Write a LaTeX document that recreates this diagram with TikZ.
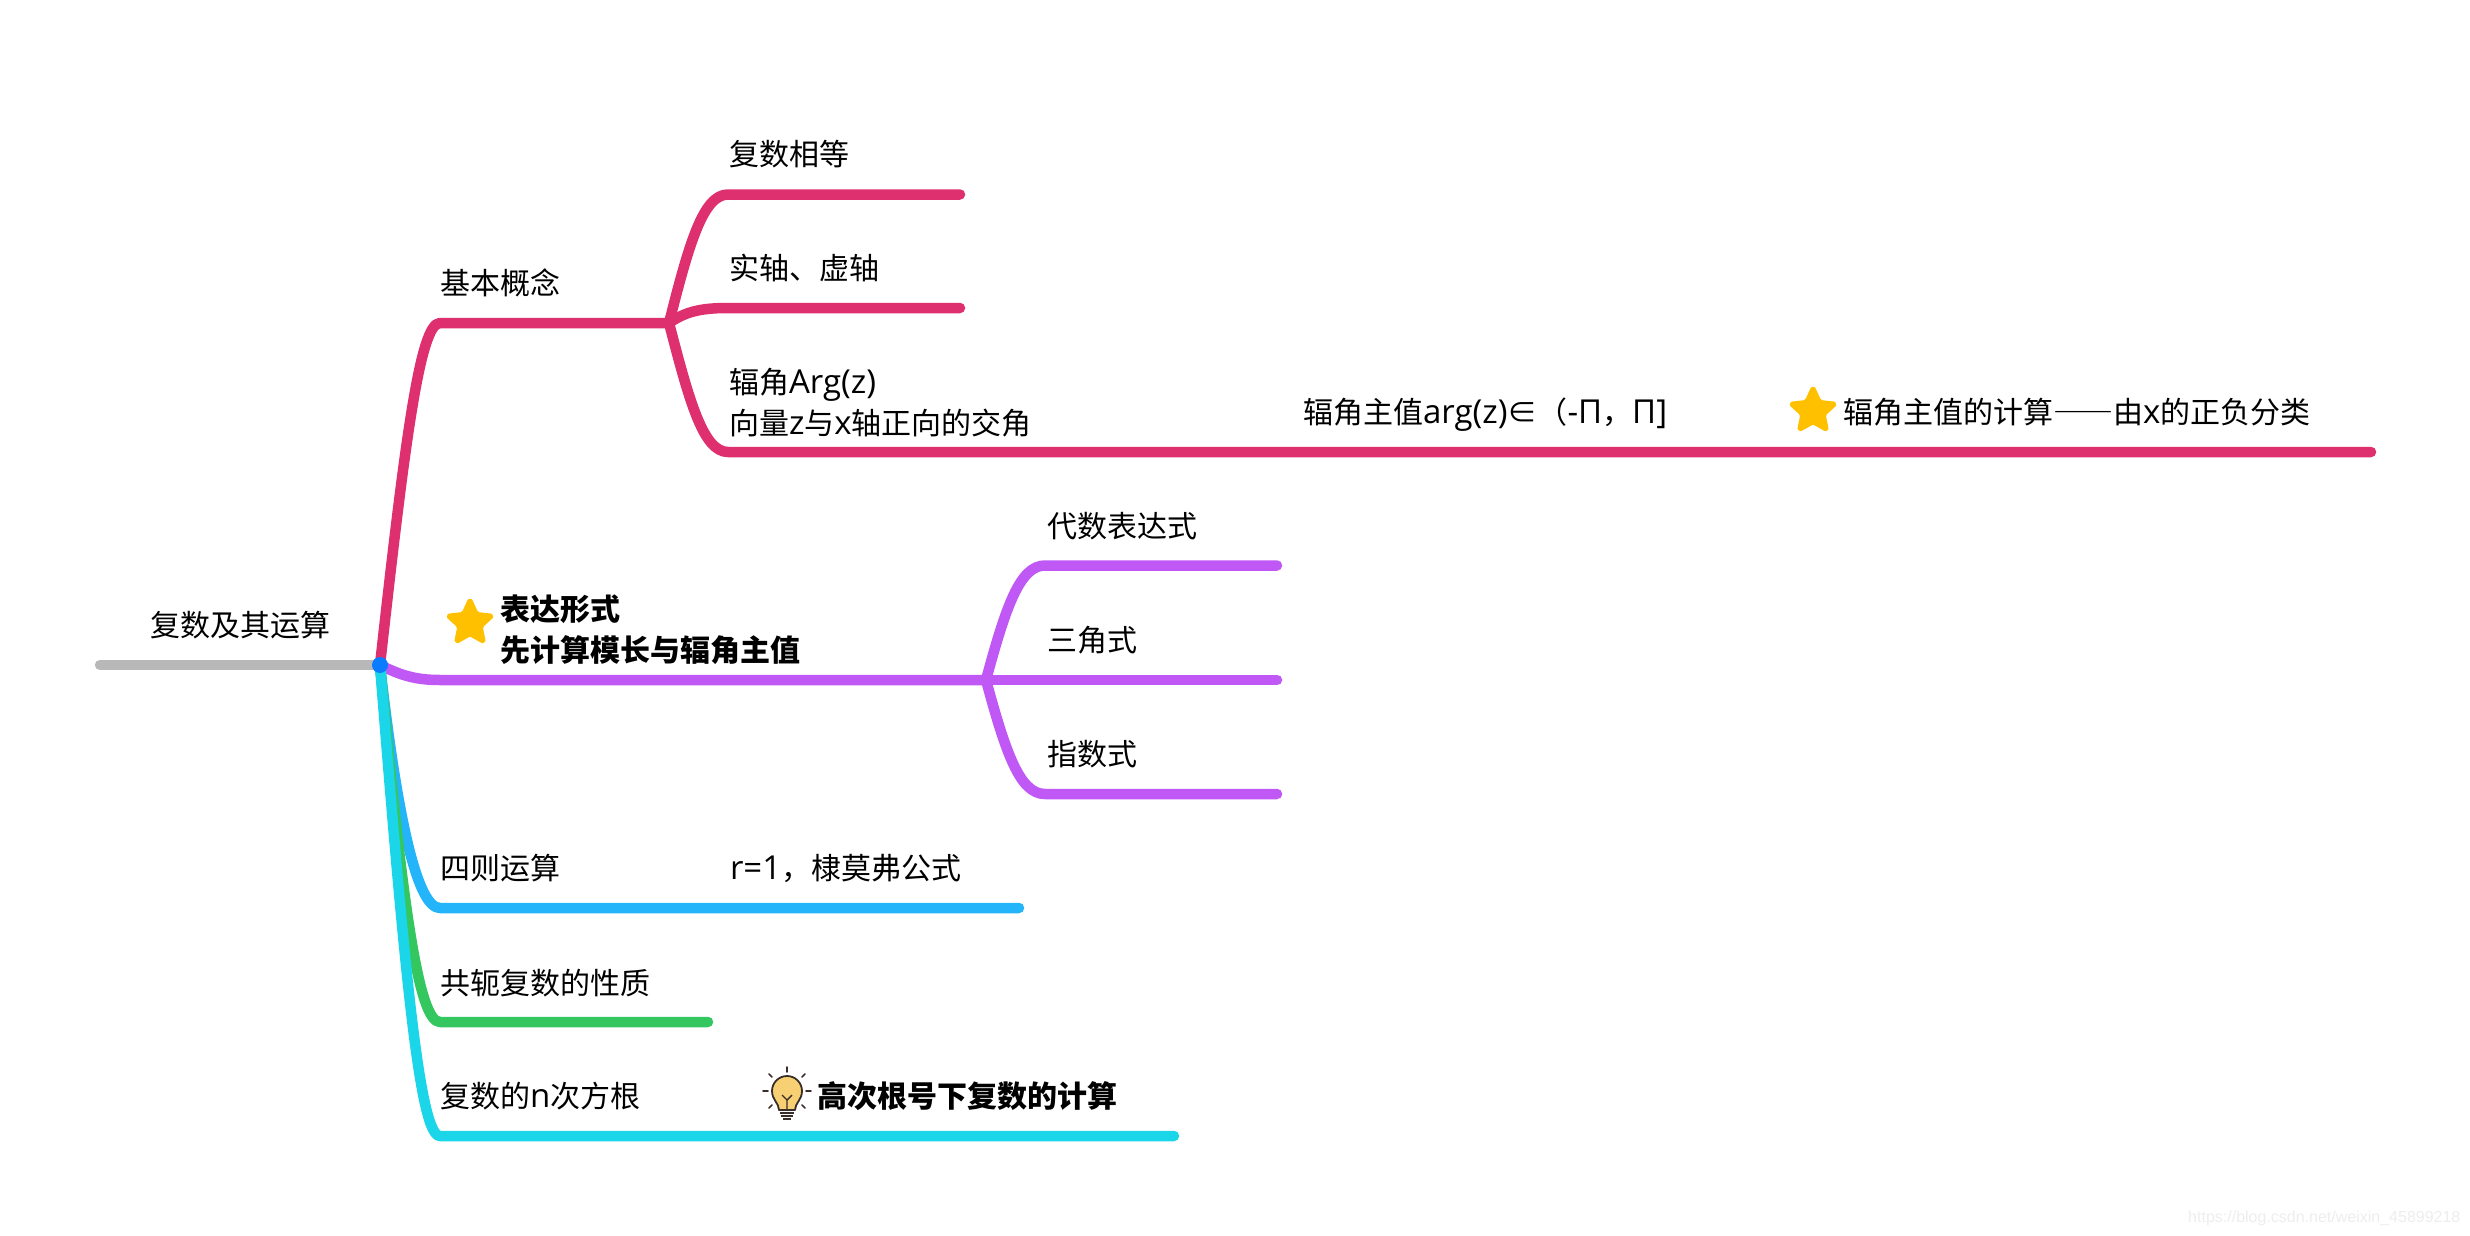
\documentclass[tikz,border=0pt]{standalone}
\usepackage{fontspec}
\setmainfont{Noto Sans CJK SC}
\newfontfamily\wmfont{Liberation Sans}
\newfontfamily\latfont[Scale=1.1]{Open Sans}
\newcommand{\lat}[1]{{\latfont #1}}
\newcommand{\fulldash}{{\addfontfeatures{CharacterWidth=Full}——}}
\usetikzlibrary{shapes.geometric}
\definecolor{rootgrey}{HTML}{B8B8B8}
\definecolor{hubblue}{HTML}{0A7CFF}
\definecolor{pinkc}{HTML}{DE306E}
\definecolor{purplec}{HTML}{BF58F5}
\definecolor{bluec}{HTML}{24B4FA}
\definecolor{greenc}{HTML}{34C65F}
\definecolor{cyanc}{HTML}{1BD6E8}
\definecolor{starc}{HTML}{FFC000}
\definecolor{bulbc}{HTML}{F6D073}
\definecolor{bulbline}{HTML}{3A2E2A}
\tikzset{
  branch/.style={line width=10.5pt,line cap=round,line join=round},
  lbl/.style={anchor=west,inner sep=0pt,outer sep=0pt,font=\fontsize{30}{41}\selectfont,text height=26pt,text depth=3pt},
  lbltwo/.style={anchor=west,inner sep=0pt,outer sep=0pt,font=\fontsize{30}{41}\selectfont,align=left},
  boldlbl/.style={lbl,font=\fontsize{30}{41}\selectfont\bfseries},
  boldtwo/.style={lbltwo,font=\fontsize{30}{41}\selectfont\bfseries},
  starnode/.style={star,star points=5,star point ratio=2.1,fill=starc,draw=starc,line width=4pt,line join=round,rounded corners=2pt,minimum size=47pt,inner sep=0pt},
  ray/.style={draw=bulbline,line width=1.6pt,line cap=round},
}
\begin{document}
\begin{tikzpicture}[x=1pt,y=-1pt]
\useasboundingbox (0,0) rectangle (2470,1236);
% free ends and forks
\coordinate (rootend) at (100,665);
\coordinate (hubc) at (380,665);
\coordinate (pinkb) at (440,323);
\coordinate (pinkf) at (669,323);
\coordinate (p1) at (728,194.5);
\coordinate (p1e) at (960,194.5);
\coordinate (p2) at (728,308);
\coordinate (p2e) at (960,308);
\coordinate (p3) at (728,452);
\coordinate (p3e) at (2371,452);
\coordinate (purb) at (440,680);
\coordinate (purf) at (986,680);
\coordinate (q1) at (1045,565.5);
\coordinate (q1e) at (1277,565.5);
\coordinate (q2e) at (1277,680);
\coordinate (q3) at (1045,794);
\coordinate (q3e) at (1277,794);
\coordinate (blb) at (440,908);
\coordinate (ble) at (1019,908);
\coordinate (grb) at (440,1022);
\coordinate (gre) at (708,1022);
\coordinate (cyb) at (440,1136);
\coordinate (cye) at (1174,1136);

\draw[branch,rootgrey] (rootend) -- (hubc);
\draw[branch,pinkc] (hubc) .. controls (405,440) and (420,323) .. (pinkb) -- (pinkf);
\draw[branch,pinkc] (pinkf) .. controls (689,244) and (703,194.5) .. (p1) -- (p1e);
\draw[branch,pinkc] (pinkf) .. controls (685,312) and (700,308) .. (p2) -- (p2e);
\draw[branch,pinkc] (pinkf) .. controls (689,400) and (703,452) .. (p3) -- (p3e);
\draw[branch,purplec] (hubc) .. controls (400,675) and (415,680) .. (purb) -- (purf);
\draw[branch,purplec] (purf) .. controls (1006,606) and (1020,565.5) .. (q1) -- (q1e);
\draw[branch,purplec] (purf) -- (q2e);
\draw[branch,purplec] (purf) .. controls (1006,754) and (1020,794) .. (q3) -- (q3e);
\draw[branch,bluec] (hubc) .. controls (398,825) and (418,908) .. (blb) -- (ble);
\draw[branch,greenc] (hubc) .. controls (402,900) and (418,1022) .. (grb) -- (gre);
\draw[branch,cyanc] (hubc) .. controls (405,980) and (420,1136) .. (cyb) -- (cye);
\node[circle,fill=hubblue,minimum size=16pt,inner sep=0pt] (hub) at (hubc) {};

% labels
\node[lbl] (root) at (150,625) {复数及其运算};
\node[lbl] (basic) at (440,282.5) {基本概念};
\node[lbl] (equal) at (729,154) {复数相等};
\node[lbl] (axes) at (729,268) {实轴、虚轴};
\node[lbltwo] (arg) at (729,403) {辐角\lat{Arg(z)}\\向量\lat{z}与\lat{x}轴正向的交角};
\node[lbl] (princ) at (1303,412) {辐角主值\lat{arg(z)}∈（\lat{-Π}，\lat{Π]}};
\node[starnode] (star2) at (1813,411) {};
\node[lbl] (calc) at (1843,412) {辐角主值的计算\fulldash 由\lat{x}的正负分类};
\node[starnode] (star1) at (470,623) {};
\node[boldtwo] (form) at (500,630) {表达形式\\先计算模长与辐角主值};
\node[lbl] (alg) at (1047,526) {代数表达式};
\node[lbl] (tri) at (1047,640) {三角式};
\node[lbl] (expf) at (1047,754) {指数式};
\node[lbl] (four) at (440,868) {四则运算};
\node[lbl] (demoivre) at (730,868) {\lat{r=1}，棣莫弗公式};
\node[lbl] (conj) at (440,983) {共轭复数的性质};
\node[lbl] (nroot) at (440,1096) {复数的\lat{n}次方根};
\node[boldlbl] (high) at (817,1096) {高次根号下复数的计算};
\node[anchor=west,inner sep=0pt,text=black!7,font=\wmfont\fontsize{16}{20}\selectfont] (wm) at (2188,1218) {https://blog.csdn.net/weixin\_45899218};

% bulb
\path[fill=bulbc,draw=bulbline,line width=1.8pt,line join=round]
  (779,1110) .. controls (779,1103) and (772,1100) .. (772,1091)
  arc[start angle=180,end angle=360,radius=15]
  .. controls (802,1100) and (795,1103) .. (795,1110) -- cycle;
\draw[bulbline,line width=1.4pt] (787,1110) -- (787,1100) -- (782,1095) (787,1100) -- (792,1095);
\foreach \ya/\wd in {1113/7,1116/6,1119/4}
  \draw[bulbline,line width=1.4pt] (787-\wd,\ya) -- (787+\wd,\ya);
\draw[ray] (787,1067) -- (787,1072);
\draw[ray] (763,1091) -- (768,1091);
\draw[ray] (811,1091) -- (806,1091);
\draw[ray] (769,1074) -- (772,1077);
\draw[ray] (805,1074) -- (802,1077);
\draw[ray] (769,1108) -- (772,1105);
\draw[ray] (805,1108) -- (802,1105);
\end{tikzpicture}
\end{document}
